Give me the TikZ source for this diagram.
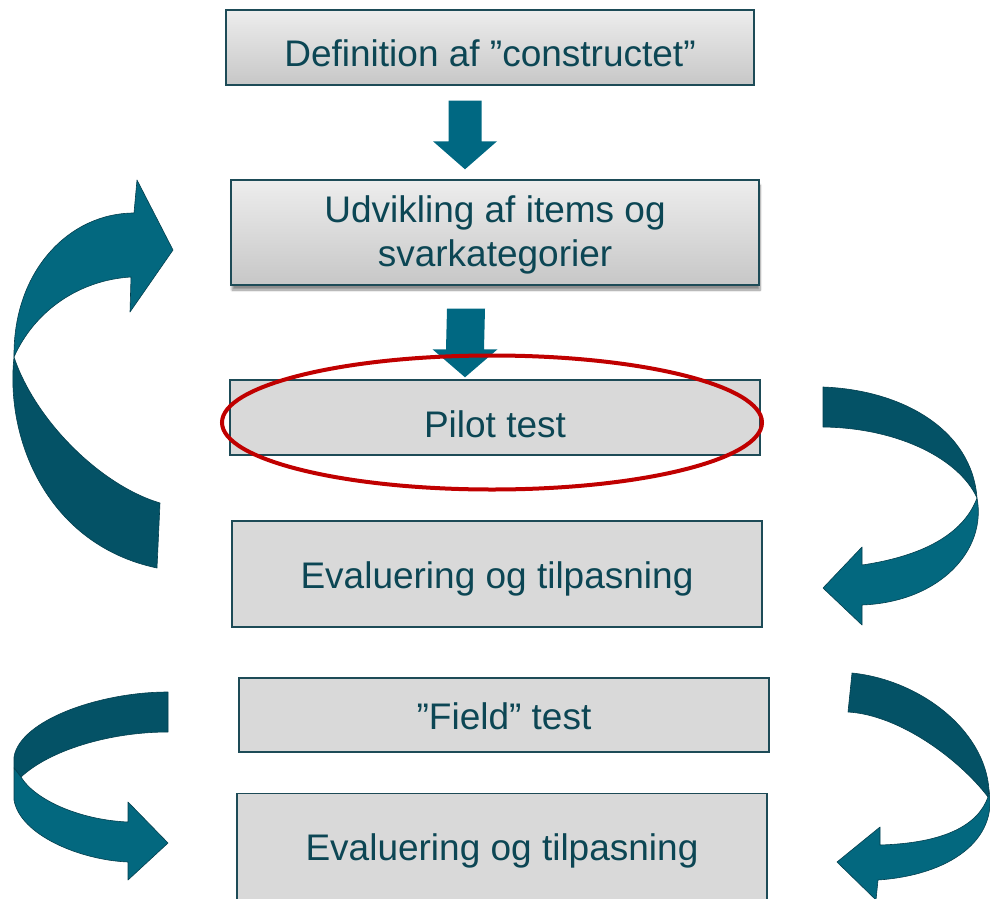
\documentclass[tikz,border=0pt]{standalone}
\usepackage{fontspec}
\setmainfont{Liberation Sans}
\usetikzlibrary{calc,shapes.geometric,shadows.blur}
\definecolor{boxline}{HTML}{1D4B57}
\definecolor{boxgray}{HTML}{D9D9D9}
\definecolor{txt}{HTML}{0C4654}
\definecolor{tealS}{HTML}{006882}
\definecolor{tealL}{HTML}{03687F}
\definecolor{tealD}{HTML}{045266}
\definecolor{tealE}{HTML}{033F4E}
\definecolor{hlred}{HTML}{C00000}
\begin{document}
\begin{tikzpicture}[x=1pt,y=-1pt,
  box/.style={draw=boxline, line width=1.4pt, fill=boxgray, text=txt,
    font=\fontsize{37}{44}\selectfont, align=center, inner sep=0pt,
    minimum width=530pt},
  capshift/.style={text depth=0pt, text height=26.5pt+2*#1},
  gradbox/.style={box, top color=white!93!black, bottom color=white!78!black},
  blockarr/.style={fill=tealS},
  ribbonD/.style={fill=tealD, draw=tealE, line width=0.6pt, line join=round},
  ribbonL/.style={fill=tealL, draw=tealE, line width=0.6pt, line join=round},
  hl/.style={draw=hlred, line width=4pt, ellipse, inner sep=0pt}
]
\path[use as bounding box] (0,0) rectangle (990,899);
\clip (0,0) rectangle (990,899);

% ---- curved ribbon arrows ----
% left, large (from Pilot test back to Udvikling)
\path[ribbonD] (14,357) .. controls (5,440) and (48,545) .. (157,568)
  -- (160,503) .. controls (100,485) and (35,420) .. (14,357) -- cycle;
\path[ribbonL] (14,357) .. controls (13,270) and (70,213) .. (134,213)
  -- (137,180) -- (173,250) -- (130,312) -- (131,277)
  .. controls (80,280) and (35,310) .. (14,357) -- cycle;
% right, middle
\path[ribbonD] (823,387) .. controls (903,390) and (972,430) .. (977,498)
  .. controls (960,460) and (900,428) .. (823,427) -- cycle;
\path[ribbonL] (977,498) .. controls (987,550) and (940,602) .. (862,605)
  -- (862,625) -- (823,588) -- (862,547) -- (862,565)
  .. controls (930,555) and (965,530) .. (977,498) -- cycle;
% left, lower
\path[ribbonD] (168,692) .. controls (100,692) and (20,720) .. (14,757)
  -- (14,768) -- (21,777) .. controls (50,750) and (110,732) .. (168,732) -- cycle;
\path[ribbonL] (14,768) -- (14,800) .. controls (20,835) and (80,860) .. (128,862)
  -- (128,880) -- (168,843) -- (128,802) -- (128,822)
  .. controls (80,820) and (35,800) .. (21,777) -- cycle;
% right, lower
\path[ribbonD] (852,673) .. controls (920,680) and (985,730) .. (989,790)
  -- (988,797) .. controls (960,760) and (900,715) .. (848,712) -- cycle;
\path[ribbonL] (989,790) .. controls (998,840) and (950,875) .. (878,880)
  -- (876,900) -- (837,862) -- (880,827) -- (880,845)
  .. controls (945,843) and (978,825) .. (988,797) -- cycle;

% ---- boxes ----
\node[gradbox, capshift=6.2pt, minimum width=528pt, minimum height=75pt] (b1) at (490,47.5)
  {Definition af ”constructet”};
\node[gradbox, minimum width=528pt, minimum height=105pt,
  blur shadow={shadow xshift=1pt, shadow yshift=-5pt, shadow blur steps=8, shadow opacity=45}]
  (b2) at (495,232.5)
  {\raisebox{-3.4pt}[\height][\depth]{\begin{tabular}{@{}c@{}}Udvikling af items og\\svarkategorier\end{tabular}}};
\node[box, capshift=6.7pt, minimum height=75pt] (b3) at (495,417.5) {Pilot test};
\node[box, capshift=1pt, minimum height=106pt] (b4) at (497,574) {Evaluering og tilpasning};
\node[box, capshift=1.2pt, minimum height=74pt] (b5) at (504,715) {”Field” test};
\node[box, capshift=-1.8pt, minimum height=110pt, anchor=north] (b6) at (502,793) {Evaluering og tilpasning};

% ---- straight block arrows ----
\coordinate (a1s) at ($(b1.south)+(-25,15)$);
\coordinate (a1e) at ($(b2.north)+(-30,-10)$);
\fill[blockarr] ($(a1s)+(-16.5,0)$) -- ($(a1s)+(16.5,0)$) -- ($(a1e)+(16.5,-28)$)
  -- ($(a1e)+(32,-28)$) -- (a1e) -- ($(a1e)+(-32,-28)$) -- ($(a1e)+(-16.5,-28)$) -- cycle;
\coordinate (a2s) at ($(b2.south)+(-29,23)$);
\coordinate (a2e) at ($(b3.north)+(-30,-2)$);
\fill[blockarr] ($(a2s)+(-19,0)$) -- ($(a2s)+(19,0)$) -- ($(a2e)+(19,-28)$)
  -- ($(a2e)+(32.5,-28)$) -- (a2e) -- ($(a2e)+(-32.5,-28)$) -- ($(a2e)+(-19,-28)$) -- cycle;

% ---- highlight ellipse ----
\node[hl, minimum width=540pt, minimum height=134pt] (pilotmark) at ($(b3.center)+(-3,5)$) {};
\end{tikzpicture}
\end{document}
